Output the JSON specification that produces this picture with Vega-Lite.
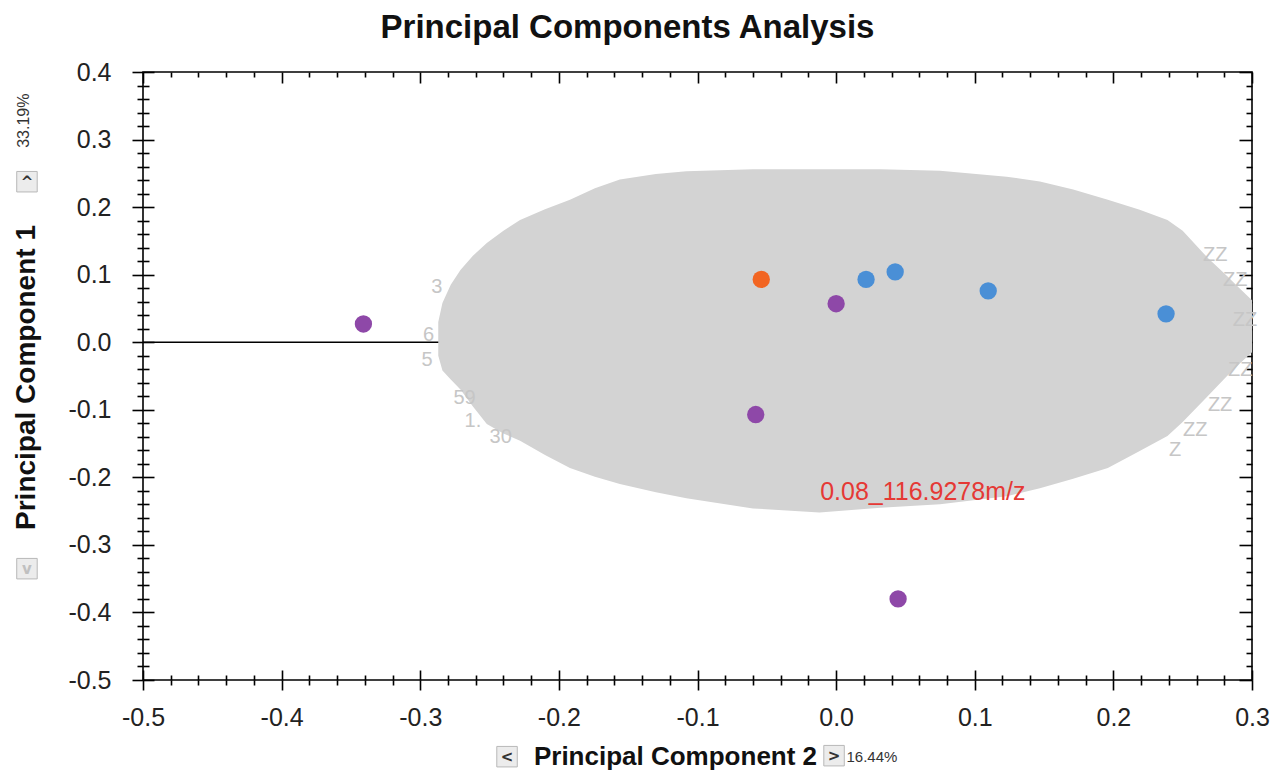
{
  "$schema": "https://vega.github.io/schema/vega-lite/v6.json",
  "width": 1109,
  "height": 608,
  "autosize": {"type": "none"},
  "padding": {"left": 143, "top": 72, "right": 25, "bottom": 104},
  "background": "white",
  "config": {
    "view": {"stroke": "#000", "strokeWidth": 1.6},
    "axis": {"grid": false, "domain": false, "labelFont": "Liberation Sans", "titleFont": "Liberation Sans", "tickColor": "#000", "tickWidth": 1.6}
  },
  "title": {
    "text": "Principal Components Analysis",
    "font": "Liberation Sans",
    "fontSize": 33,
    "fontWeight": "bold",
    "color": "#111",
    "anchor": "middle",
    "frame": "group",
    "dx": -70,
    "offset": 15
  },
  "datasets": {
    "cloud": [
      {"x": -0.287, "top": 0.030, "bottom": -0.020},
      {"x": -0.284, "top": 0.058, "bottom": -0.042},
      {"x": -0.278, "top": 0.085, "bottom": -0.055},
      {"x": -0.271, "top": 0.107, "bottom": -0.070},
      {"x": -0.262, "top": 0.128, "bottom": -0.095},
      {"x": -0.252, "top": 0.147, "bottom": -0.121},
      {"x": -0.240, "top": 0.165, "bottom": -0.135},
      {"x": -0.228, "top": 0.181, "bottom": -0.146},
      {"x": -0.210, "top": 0.197, "bottom": -0.167},
      {"x": -0.192, "top": 0.211, "bottom": -0.186},
      {"x": -0.174, "top": 0.228, "bottom": -0.199},
      {"x": -0.156, "top": 0.241, "bottom": -0.210},
      {"x": -0.130, "top": 0.249, "bottom": -0.222},
      {"x": -0.108, "top": 0.253, "bottom": -0.231},
      {"x": -0.060, "top": 0.256, "bottom": -0.246},
      {"x": -0.012, "top": 0.256, "bottom": -0.252},
      {"x": 0.032, "top": 0.256, "bottom": -0.245},
      {"x": 0.075, "top": 0.254, "bottom": -0.240},
      {"x": 0.123, "top": 0.245, "bottom": -0.228},
      {"x": 0.147, "top": 0.238, "bottom": -0.216},
      {"x": 0.171, "top": 0.226, "bottom": -0.202},
      {"x": 0.196, "top": 0.211, "bottom": -0.186},
      {"x": 0.219, "top": 0.196, "bottom": -0.161},
      {"x": 0.239, "top": 0.181, "bottom": -0.139},
      {"x": 0.250, "top": 0.165, "bottom": -0.118},
      {"x": 0.268, "top": 0.125, "bottom": -0.080},
      {"x": 0.282, "top": 0.098, "bottom": -0.050},
      {"x": 0.291, "top": 0.080, "bottom": -0.032},
      {"x": 0.300, "top": 0.062, "bottom": -0.015}
    ],
    "cloudText": [
      {"x": -0.288, "y": 0.082, "t": "3"},
      {"x": -0.294, "y": 0.011, "t": "6"},
      {"x": -0.295, "y": -0.026, "t": "5"},
      {"x": -0.268, "y": -0.082, "t": "59"},
      {"x": -0.262, "y": -0.116, "t": "1."},
      {"x": -0.242, "y": -0.140, "t": "30"},
      {"x": 0.2735, "y": 0.1296, "t": "ZZ"},
      {"x": 0.2879, "y": 0.0926, "t": "ZZ"},
      {"x": 0.295, "y": 0.033, "t": "ZZ"},
      {"x": 0.2915, "y": -0.041, "t": "ZZ"},
      {"x": 0.277, "y": -0.093, "t": "ZZ"},
      {"x": 0.259, "y": -0.130, "t": "ZZ"},
      {"x": 0.2446, "y": -0.160, "t": "Z"}
    ],
    "points": [
      {"x": -0.341, "y": 0.027, "g": "P"},
      {"x": -0.054, "y": 0.093, "g": "O"},
      {"x": 0.0, "y": 0.057, "g": "P"},
      {"x": 0.0216, "y": 0.093, "g": "B"},
      {"x": 0.0426, "y": 0.104, "g": "B"},
      {"x": 0.1097, "y": 0.076, "g": "B"},
      {"x": 0.238, "y": 0.042, "g": "B"},
      {"x": -0.058, "y": -0.107, "g": "P"},
      {"x": 0.0447, "y": -0.380, "g": "P"}
    ],
    "buttons": [
      {"x": -0.5837, "y": 0.2376, "t": "^", "on": "yes"},
      {"x": -0.5837, "y": -0.3352, "t": "v", "on": "no"},
      {"x": -0.2374, "y": -0.6135, "t": "<", "on": "yes"},
      {"x": -0.0015, "y": -0.612, "t": ">", "on": "yes"}
    ]
  },
  "resolve": {"axis": {"x": "independent", "y": "independent"}, "scale": {"color": "independent"}},
  "layer": [
    {
      "data": {"values": [{"y": 0}]},
      "mark": {"type": "rule", "color": "#000", "strokeWidth": 1.5},
      "encoding": {
        "y": {"field": "y", "type": "quantitative", "scale": {"domain": [-0.5, 0.4], "nice": false, "zero": false}, "axis": null}
      }
    },
    {
      "data": {"name": "cloud"},
      "mark": {"type": "area", "fill": "#d3d3d3", "interpolate": "linear"},
      "encoding": {
        "x": {"field": "x", "type": "quantitative", "scale": {"domain": [-0.5, 0.3], "nice": false, "zero": false},
          "axis": {"orient": "bottom", "values": [-0.5, -0.4, -0.3, -0.2, -0.1, 0, 0.1, 0.2, 0.3], "ticks": false, "labelFontSize": 25, "labelColor": "#222", "labelPadding": 25, "labelFlush": false, "labelOverlap": false,
            "labelExpr": "replace(format(datum.value,'.1f'),'\u2212','-')",
            "title": "Principal Component 2", "titleFontSize": 26, "titleFontWeight": "bold", "titleColor": "#111", "titleX": 532, "titleY": 84, "titleBaseline": "alphabetic", "titleAlign": "center", "titleAngle": 0}},
        "y": {"field": "top", "type": "quantitative", "scale": {"domain": [-0.5, 0.4], "nice": false, "zero": false},
          "axis": {"orient": "left", "values": [-0.5, -0.4, -0.3, -0.2, -0.1, 0, 0.1, 0.2, 0.3, 0.4], "ticks": false, "labelFontSize": 25, "labelColor": "#222", "labelPadding": 32, "labelFlush": false, "labelOverlap": false,
            "labelExpr": "replace(format(datum.value,'.1f'),'\u2212','-')",
            "title": "Principal Component 1", "titleFontSize": 28, "titleFontWeight": "bold", "titleColor": "#111", "titleX": -117, "titleY": 305, "titleAngle": 270, "titleAlign": "center", "titleBaseline": "middle"}},
        "y2": {"field": "bottom"}
      }
    },
    {
      "data": {"name": "cloudText"},
      "mark": {"type": "text", "color": "#c6c6c6", "fontSize": 20, "font": "Liberation Sans", "align": "center", "baseline": "middle"},
      "encoding": {
        "x": {"field": "x", "type": "quantitative", "scale": {"domain": [-0.5, 0.3], "nice": false, "zero": false},
          "axis": {"orient": "bottom", "labels": false, "title": null, "domain": false,
            "values": [-0.5, -0.48, -0.46, -0.44, -0.42, -0.4, -0.38, -0.36, -0.34, -0.32, -0.3, -0.28, -0.26, -0.24, -0.22, -0.2, -0.18, -0.16, -0.14, -0.12, -0.1, -0.08, -0.06, -0.04, -0.02, 0, 0.02, 0.04, 0.06, 0.08, 0.1, 0.12, 0.14, 0.16, 0.18, 0.2, 0.22, 0.24, 0.26, 0.28, 0.3],
            "tickSize": {"condition": {"test": "abs(datum.value*10-round(datum.value*10))<0.01", "value": -10}, "value": -5}}},
        "y": {"field": "y", "type": "quantitative", "scale": {"domain": [-0.5, 0.4], "nice": false, "zero": false},
          "axis": {"orient": "left", "labels": false, "title": null, "domain": false,
            "values": [-0.5, -0.48, -0.46, -0.44, -0.42, -0.4, -0.38, -0.36, -0.34, -0.32, -0.3, -0.28, -0.26, -0.24, -0.22, -0.2, -0.18, -0.16, -0.14, -0.12, -0.1, -0.08, -0.06, -0.04, -0.02, 0, 0.02, 0.04, 0.06, 0.08, 0.1, 0.12, 0.14, 0.16, 0.18, 0.2, 0.22, 0.24, 0.26, 0.28, 0.3, 0.32, 0.34, 0.36, 0.38, 0.4],
            "tickSize": {"condition": {"test": "abs(datum.value*10-round(datum.value*10))<0.01", "value": -11}, "value": -6}}},
        "text": {"field": "t"}
      }
    },
    {
      "data": {"name": "points"},
      "mark": {"type": "circle", "size": 300, "opacity": 1},
      "encoding": {
        "x": {"field": "x", "type": "quantitative", "scale": {"domain": [-0.5, 0.3], "nice": false, "zero": false},
          "axis": {"orient": "bottom", "labels": false, "title": null, "domain": false,
            "values": [-0.5, -0.48, -0.46, -0.44, -0.42, -0.4, -0.38, -0.36, -0.34, -0.32, -0.3, -0.28, -0.26, -0.24, -0.22, -0.2, -0.18, -0.16, -0.14, -0.12, -0.1, -0.08, -0.06, -0.04, -0.02, 0, 0.02, 0.04, 0.06, 0.08, 0.1, 0.12, 0.14, 0.16, 0.18, 0.2, 0.22, 0.24, 0.26, 0.28, 0.3],
            "tickSize": {"condition": {"test": "abs(datum.value*10-round(datum.value*10))<0.01", "value": 10}, "value": 5}}},
        "y": {"field": "y", "type": "quantitative", "scale": {"domain": [-0.5, 0.4], "nice": false, "zero": false},
          "axis": {"orient": "left", "labels": false, "title": null, "domain": false,
            "values": [-0.5, -0.48, -0.46, -0.44, -0.42, -0.4, -0.38, -0.36, -0.34, -0.32, -0.3, -0.28, -0.26, -0.24, -0.22, -0.2, -0.18, -0.16, -0.14, -0.12, -0.1, -0.08, -0.06, -0.04, -0.02, 0, 0.02, 0.04, 0.06, 0.08, 0.1, 0.12, 0.14, 0.16, 0.18, 0.2, 0.22, 0.24, 0.26, 0.28, 0.3, 0.32, 0.34, 0.36, 0.38, 0.4],
            "tickSize": {"condition": {"test": "abs(datum.value*10-round(datum.value*10))<0.01", "value": 11}, "value": 6}}},
        "color": {"field": "g", "type": "nominal", "scale": {"domain": ["P", "O", "B"], "range": ["#8e48a8", "#f26522", "#4a8fd6"]}, "legend": null}
      }
    },
    {
      "data": {"values": [{"x": -0.0115, "y": -0.2212, "t": "0.08_116.9278m/z"}]},
      "mark": {"type": "text", "color": "#e53935", "fontSize": 25, "font": "Liberation Sans", "align": "left", "baseline": "middle"},
      "encoding": {
        "x": {"field": "x", "type": "quantitative", "scale": {"domain": [-0.5, 0.3], "nice": false, "zero": false},
          "axis": {"orient": "top", "labels": false, "title": null, "domain": false,
            "values": [-0.5, -0.48, -0.46, -0.44, -0.42, -0.4, -0.38, -0.36, -0.34, -0.32, -0.3, -0.28, -0.26, -0.24, -0.22, -0.2, -0.18, -0.16, -0.14, -0.12, -0.1, -0.08, -0.06, -0.04, -0.02, 0, 0.02, 0.04, 0.06, 0.08, 0.1, 0.12, 0.14, 0.16, 0.18, 0.2, 0.22, 0.24, 0.26, 0.28, 0.3],
            "tickSize": {"condition": {"test": "abs(datum.value*10-round(datum.value*10))<0.01", "value": -11}, "value": -5}}},
        "y": {"field": "y", "type": "quantitative", "scale": {"domain": [-0.5, 0.4], "nice": false, "zero": false},
          "axis": {"orient": "right", "labels": false, "title": null, "domain": false,
            "values": [-0.5, -0.48, -0.46, -0.44, -0.42, -0.4, -0.38, -0.36, -0.34, -0.32, -0.3, -0.28, -0.26, -0.24, -0.22, -0.2, -0.18, -0.16, -0.14, -0.12, -0.1, -0.08, -0.06, -0.04, -0.02, 0, 0.02, 0.04, 0.06, 0.08, 0.1, 0.12, 0.14, 0.16, 0.18, 0.2, 0.22, 0.24, 0.26, 0.28, 0.3, 0.32, 0.34, 0.36, 0.38, 0.4],
            "tickSize": {"condition": {"test": "abs(datum.value*10-round(datum.value*10))<0.01", "value": -13}, "value": -6}}},
        "text": {"field": "t"}
      }
    },
    {
      "data": {"name": "buttons"},
      "mark": {"type": "point", "shape": "square", "filled": true, "size": 420, "fill": "#ececec", "stroke": "#b8b8b8", "strokeWidth": 1, "opacity": 1},
      "encoding": {
        "x": {"field": "x", "type": "quantitative", "scale": {"domain": [-0.5, 0.3], "nice": false, "zero": false}, "axis": null},
        "y": {"field": "y", "type": "quantitative", "scale": {"domain": [-0.5, 0.4], "nice": false, "zero": false}, "axis": null}
      }
    },
    {
      "data": {"name": "buttons"},
      "mark": {"type": "text", "fontSize": 15, "fontWeight": "bold", "font": "DejaVu Sans", "align": "center", "baseline": "middle"},
      "encoding": {
        "x": {"field": "x", "type": "quantitative", "scale": {"domain": [-0.5, 0.3], "nice": false, "zero": false}, "axis": null},
        "y": {"field": "y", "type": "quantitative", "scale": {"domain": [-0.5, 0.4], "nice": false, "zero": false}, "axis": null},
        "text": {"field": "t"},
        "color": {"field": "on", "type": "nominal", "scale": {"domain": ["yes", "no"], "range": ["#333333", "#c0c0c0"]}, "legend": null}
      }
    },
    {
      "data": {"values": [{"x": 0.0075, "y": -0.6135, "t": "16.44%"}]},
      "mark": {"type": "text", "fontSize": 15, "font": "Liberation Sans", "color": "#333", "align": "left", "baseline": "middle"},
      "encoding": {
        "x": {"field": "x", "type": "quantitative", "scale": {"domain": [-0.5, 0.3], "nice": false, "zero": false}, "axis": null},
        "y": {"field": "y", "type": "quantitative", "scale": {"domain": [-0.5, 0.4], "nice": false, "zero": false}, "axis": null},
        "text": {"field": "t"}
      }
    },
    {
      "data": {"values": [{"x": -0.5859, "y": 0.3279, "t": "33.19%"}]},
      "mark": {"type": "text", "fontSize": 16, "font": "Liberation Sans", "color": "#333", "align": "center", "baseline": "middle", "angle": 270},
      "encoding": {
        "x": {"field": "x", "type": "quantitative", "scale": {"domain": [-0.5, 0.3], "nice": false, "zero": false}, "axis": null},
        "y": {"field": "y", "type": "quantitative", "scale": {"domain": [-0.5, 0.4], "nice": false, "zero": false}, "axis": null},
        "text": {"field": "t"}
      }
    }
  ]
}
